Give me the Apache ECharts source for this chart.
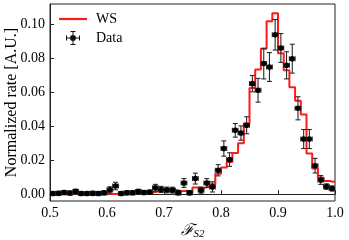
<!DOCTYPE html>
<html><head><meta charset="utf-8">
<script src="https://cdn.jsdelivr.net/npm/echarts@6/dist/echarts.min.js"></script>
<style>html,body{margin:0;padding:0;background:#fff}#c{width:349px;height:240px}</style>
</head><body><div id="c"></div>
<script>
const binEdges = [0.50,0.51,0.52,0.53,0.54,0.55,0.56,0.57,0.58,0.59,
  0.60,0.61,0.62,0.63,0.64,0.65,0.66,0.67,0.68,0.69,
  0.70,0.71,0.72,0.73,0.74,0.75,0.76,0.77,0.78,0.79,
  0.80,0.81,0.82,0.83,0.84,0.85,0.86,0.87,0.88,0.89,
  0.90,0.91,0.92,0.93,0.94,0.95,0.96,0.97,0.98,0.99,1.00];
const wsValues = [0.0004,0.0004,0.0005,0.0004,0.0006,0.0004,0.0004,0.0004,0.0004,0.0005,
  0.0001,0.0001,0.0006,0.0006,0.0008,0.0008,0.0008,0.0010,0.0016,0.0028,
  0.0028,0.0026,0.0018,0.0020,0.0012,0.0040,0.0036,0.0047,0.0059,0.0120,
  0.0157,0.0190,0.0243,0.0300,0.0416,0.0625,0.0735,0.0857,0.1018,0.1065,
  0.0830,0.0730,0.0630,0.0550,0.0470,0.0240,0.0152,0.0098,0.0078,0.0072];
const dataValues = [0.0004,0.0005,0.0010,0.0007,0.0016,0.0004,0.0004,0.0005,0.0004,0.0008,
  0.0026,0.0048,0.0004,0.0008,0.0009,0.0016,0.0010,0.0012,0.0038,0.0028,
  0.0025,0.0024,0.0009,0.0066,0.0009,0.0092,0.0024,0.0066,0.0043,0.0141,
  0.0269,0.0204,0.0376,0.0360,0.0406,0.0651,0.0612,0.0769,0.0749,0.0939,
  0.0861,0.0759,0.0798,0.0506,0.0325,0.0325,0.0168,0.0084,0.0045,0.0034];
const dataErrors = [0.0012,0.0012,0.0012,0.0012,0.0014,0.0012,0.0012,0.0012,0.0012,0.0012,
  0.0018,0.0022,0.0012,0.0012,0.0012,0.0013,0.0012,0.0012,0.0020,0.0018,
  0.0017,0.0017,0.0013,0.0026,0.0013,0.0032,0.0018,0.0026,0.0030,0.0033,
  0.0045,0.0040,0.0040,0.0042,0.0050,0.0048,0.0070,0.0090,0.0085,0.0090,
  0.0085,0.0080,0.0085,0.0068,0.0056,0.0056,0.0043,0.0026,0.0016,0.0015];
const xTicks = [0.5,0.6,0.7,0.8,0.9,1.0];
const yTicks = [0.00,0.02,0.04,0.06,0.08,0.10];

const n = wsValues.length;
const stepData = binEdges.map((e, i) => [e, wsValues[Math.min(i, n - 1)]]);
const pointData = dataValues.map((v, i) => {
  const lo = binEdges[i], hi = binEdges[i + 1];
  return [(lo + hi) / 2, v, dataErrors[i], (hi - lo) / 2];
});

const SERIF = '"Liberation Serif","DejaVu Serif",serif';
const lineIcon = 'path://M0,0 L28,0 L28,2.2 L0,2.2 Z';
const dataIcon = 'path://M0,6.5 L14,6.5 L14,7.5 L0,7.5 Z M0,4.5 L1,4.5 L1,9.5 L0,9.5 Z M13,4.5 L14,4.5 L14,9.5 L13,9.5 Z ' +
  'M6.5,0 L7.5,0 L7.5,14 L6.5,14 Z M4.5,0 L9.5,0 L9.5,1 L4.5,1 Z M4.5,13 L9.5,13 L9.5,14 L4.5,14 Z ' +
  'M4,7 A3,3 0 1,1 10,7 A3,3 0 1,1 4,7 Z';

const chart = echarts.init(document.getElementById('c'), null, {renderer: 'canvas'});
chart.setOption({
  animation: false,
  backgroundColor: '#fff',
  grid: {left: 50, right: 14, top: 4, bottom: 39, containLabel: false, outerBoundsMode: 'none',
    show: true, borderColor: '#222', borderWidth: 1, backgroundColor: 'transparent'},
  legend: {
    left: 59, top: 12, orient: 'vertical', padding: 0, itemWidth: 28, itemHeight: 14, itemGap: 5,
    textStyle: {fontFamily: SERIF, fontSize: 14, color: '#000', padding: [0, 0, 0, 4]},
    data: [{name: 'WS', icon: lineIcon, itemStyle: {color: '#ff1a1a'}},
           {name: 'Data', icon: dataIcon, itemStyle: {color: '#111'}}]
  },
  xAxis: {
    type: 'value', min: 0.5, max: 1.0, interval: 0.1,
    axisLine: {show: true, lineStyle: {color: '#222', width: 1}},
    axisTick: {show: true, inside: true, length: 4, lineStyle: {color: '#222'}},
    axisLabel: {fontFamily: SERIF, fontSize: 14, color: '#000', margin: 5, formatter: v => v.toFixed(1),
      customValues: xTicks},
    splitLine: {show: false},
    name: '{f|ℱ}{s|S2}', nameLocation: 'middle', nameGap: 20, nameMoveOverlap: false,
    nameTextStyle: {rich: {
      f: {fontFamily: '"DejaVu Serif",serif', fontStyle: 'italic', fontSize: 16, color: '#000'},
      s: {fontFamily: SERIF, fontStyle: 'italic', fontSize: 11, color: '#000', padding: [8, 0, 0, 0]}
    }}
  },
  yAxis: {
    type: 'value', min: -0.004, max: 0.112,
    axisLine: {show: true, lineStyle: {color: '#222', width: 1}},
    axisTick: {show: true, inside: true, length: 4, lineStyle: {color: '#222'}, customValues: yTicks},
    axisLabel: {fontFamily: SERIF, fontSize: 14, color: '#000', margin: 5, formatter: v => v.toFixed(2),
      customValues: yTicks},
    splitLine: {show: false},
    name: 'Normalized rate [A.U.]', nameLocation: 'middle', nameGap: 30, nameMoveOverlap: false,
    nameTextStyle: {fontFamily: SERIF, fontSize: 16, color: '#000'}
  },
  series: [
    {
      name: 'WS', type: 'line', step: 'end', data: stepData, symbol: 'none', clip: true, z: 2,
      lineStyle: {color: '#ff1a1a', width: 2}, itemStyle: {color: '#ff1a1a'}
    },
    {
      name: 'Data', type: 'custom', data: pointData, clip: true, z: 3,
      encode: {x: 0, y: 1},
      itemStyle: {color: '#111'},
      renderItem: function (params, api) {
        const x = api.value(0), y = api.value(1), e = api.value(2), hw = api.value(3);
        const c = api.coord([x, y]);
        const t = api.coord([x, y + e]);
        const b = api.coord([x, y - e]);
        const l = api.coord([x - hw, y]);
        const r = api.coord([x + hw, y]);
        const cap = 2.5;
        const st = {stroke: '#2b2b2b', lineWidth: 1.1, fill: null};
        return {type: 'group', children: [
          {type: 'line', shape: {x1: c[0], y1: t[1], x2: c[0], y2: b[1]}, style: st},
          {type: 'line', shape: {x1: c[0] - cap, y1: t[1], x2: c[0] + cap, y2: t[1]}, style: st},
          {type: 'line', shape: {x1: c[0] - cap, y1: b[1], x2: c[0] + cap, y2: b[1]}, style: st},
          {type: 'line', shape: {x1: l[0], y1: c[1], x2: r[0], y2: c[1]}, style: st},
          {type: 'line', shape: {x1: l[0], y1: c[1] - cap, x2: l[0], y2: c[1] + cap}, style: st},
          {type: 'line', shape: {x1: r[0], y1: c[1] - cap, x2: r[0], y2: c[1] + cap}, style: st},
          {type: 'circle', shape: {cx: c[0], cy: c[1], r: 2.8}, style: {fill: '#000'}}
        ]};
      }
    }
  ]
});
</script>
</body></html>
